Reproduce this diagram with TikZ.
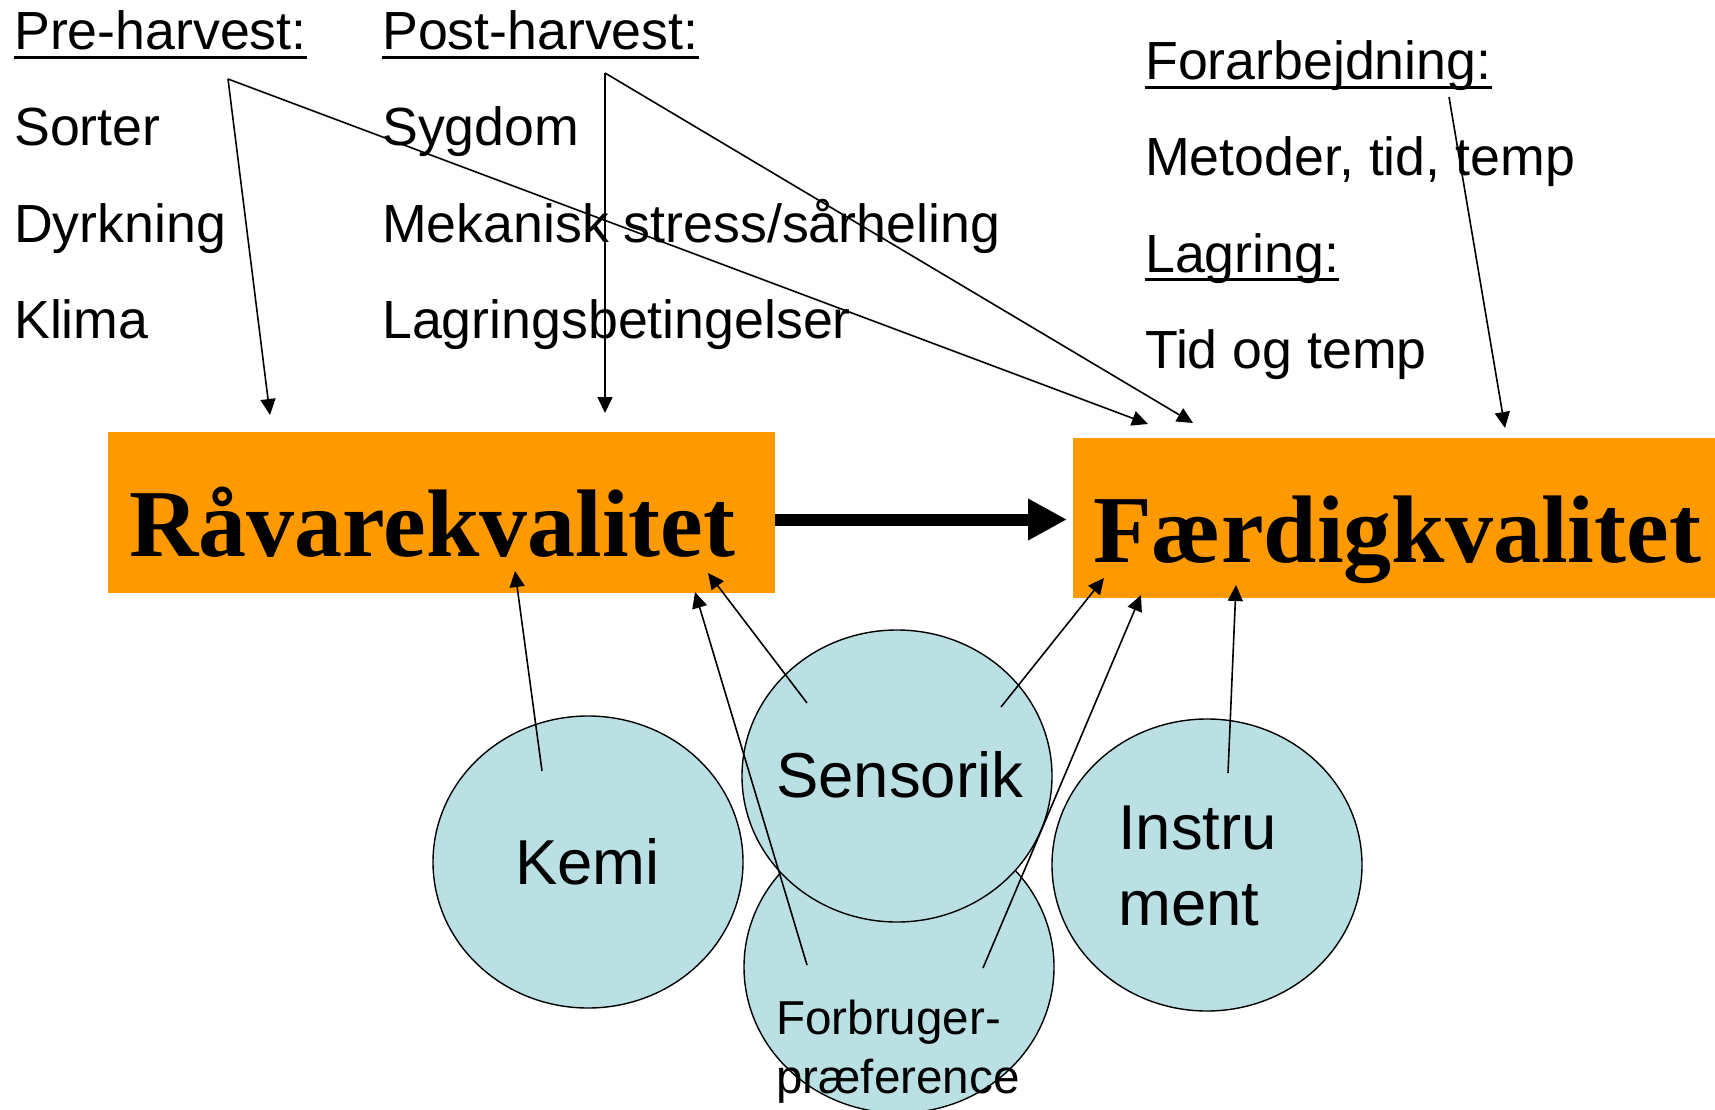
\documentclass[tikz,border=0pt]{standalone}
\usepackage{fontspec}
\setmainfont{Liberation Sans}
\newfontfamily\serifbold{Liberation Serif}
\usetikzlibrary{arrows.meta,shapes.geometric,calc}
\definecolor{boxorange}{HTML}{FF9900}
\definecolor{circblue}{HTML}{BBE0E3}
\begin{document}
\begin{tikzpicture}[x=1pt,y=-1pt,
  txt/.style={anchor=base west, inner sep=0pt, font=\fontsize{53.7}{53.7}\selectfont},
  ctxt/.style={anchor=base west, inner sep=0pt, font=\fontsize{63.5}{63.5}\selectfont},
  ftxt/.style={anchor=base west, inner sep=0pt, font=\fontsize{47.6}{47.6}\selectfont},
  titletxt/.style={anchor=base west, inner sep=0pt, font=\serifbold\bfseries\fontsize{96}{96}\selectfont},
  qbox/.style={anchor=north west, fill=boxorange, draw=none, inner sep=0pt, outer sep=0pt},
  circ/.style={ellipse, draw=black, line width=1.4pt, fill=circblue, minimum width=310pt, minimum height=292pt, inner sep=0pt},
  thinarrow/.style={line width=1.6pt, -{Triangle[length=16pt,width=15pt]}},
  uline/.style={line width=3.5pt},
  bigarrow/.style={line width=12pt, -{Triangle[length=39pt,width=39pt]}}
]
\clip (0,0) rectangle (1715,1110);
\fill[white] (0,0) rectangle (1715,1110);

% top texts
\node[txt] (pre) at (14,50) {Pre-harvest:};
\node[txt] (sorter) at (14,146) {Sorter};
\node[txt] (dyrk) at (14,242) {Dyrkning};
\node[txt] (klima) at (14,338) {Klima};
\node[txt] (post) at (382,50) {Post-harvest:};
\node[txt] (sygdom) at (382,146) {Sygdom};
\node[txt] (mek) at (382,242) {Mekanisk stress/sårheling};
\node[txt] (lagb) at (382,338) {Lagringsbetingelser};
\node[txt] (forarb) at (1145,80) {Forarbejdning:};
\node[txt] (metoder) at (1145,176) {Metoder, tid, temp};
\node[txt] (lagring) at (1145,272) {Lagring:};
\node[txt] (tid) at (1145,368) {Tid og temp};
\foreach \n in {pre,post,forarb,lagring}
  \draw[uline] ([yshift=-7.5pt]\n.base west) -- ([yshift=-7.5pt]\n.base east);

% boxes
\node[qbox, minimum width=667pt, minimum height=161pt] (raa) at (108,432) {};
\node[titletxt] (raatxt) at (129,556) {Råvarekvalitet};
\node[qbox, minimum width=650pt, minimum height=160pt] (fae) at (1073,437.5) {};
\node[titletxt] (faetxt) at (1093,562) {Færdigkvalitet};

% big arrow
\draw[bigarrow] ([yshift=-7pt]raa.east) -- +(292,0);

% circles
\node[circ] (kemi) at (588,862) {};
\node[circ] (instr) at (1207,865) {};
\node[circ] (forb) at (899,967) {};
\node[circ] (sens) at (897,776) {};
\node[ctxt] (kemitxt) at (515,884) {Kemi};
\node[ctxt] (instrtxt1) at (1118,849) {Instru};
\node[ctxt] (instrtxt2) at (1118,925) {ment};
\node[ctxt] (senstxt) at (776,797) {Sensorik};
\node[ftxt] (forbtxt1) at (776,1034) {Forbruger-};
\node[ftxt] (forbtxt2) at (776,1093) {præference};

% coordinates for connectors
\coordinate (preA) at (228,79);
\coordinate (postA) at (605,73);
\coordinate (forarbA) at (1449,97);
\coordinate (raaT1) at (270,415);
\coordinate (raaT2) at (605,413);
\coordinate (faeT1) at (1148,424);
\coordinate (faeT2) at (1193,423);
\coordinate (faeT3) at (1505,428);
\coordinate (kemiA) at ($(kemi.center)+(-46,-91)$);
\coordinate (sensA) at ($(sens.center)+(-90,-73)$);
\coordinate (sensB) at ($(sens.center)+(104,-69)$);
\coordinate (forbA) at ($(forb.center)+(-92,-2)$);
\coordinate (forbB) at ($(forb.center)+(84,1)$);
\coordinate (instrA) at ($(instr.center)+(21,-92)$);
\coordinate (raaB1) at (515,571);
\coordinate (raaB2) at (708,573);
\coordinate (raaB3) at (695,592);
\coordinate (faeB1) at (1104,578);
\coordinate (faeB2) at (1141,595);
\coordinate (faeB3) at (1236,585);

% top connectors
\draw[thinarrow] (preA) -- (raaT1);
\draw[thinarrow] (preA) -- (faeT1);
\draw[thinarrow] (postA) -- (raaT2);
\draw[thinarrow] (postA) -- (faeT2);
\draw[thinarrow] (forarbA) -- (faeT3);

% bottom connectors
\draw[thinarrow] (kemiA) -- (raaB1);
\draw[thinarrow] (sensA) -- (raaB2);
\draw[thinarrow] (forbA) -- (raaB3);
\draw[thinarrow] (sensB) -- (faeB1);
\draw[thinarrow] (forbB) -- (faeB2);
\draw[thinarrow] (instrA) -- (faeB3);
\end{tikzpicture}
\end{document}
